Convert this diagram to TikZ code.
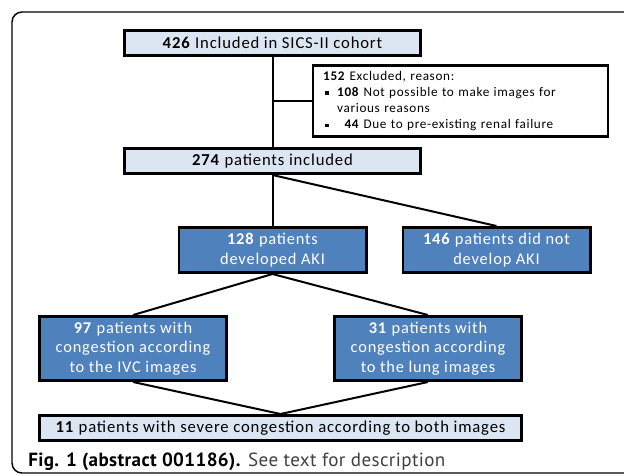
\documentclass[tikz,border=0pt]{standalone}
\usepackage{fontspec}
\setmainfont{Carlito}[LetterSpace=5]
\newfontfamily\capfont{PT Sans}[LetterSpace=2]
\usepackage{xcolor}
\usetikzlibrary{positioning}
\definecolor{paleblue}{HTML}{DCE6F2}
\definecolor{midblue}{HTML}{4F81BD}
\newcommand{\sqbullet}{\hspace{1.5pt}\rule[0.25ex]{2.5pt}{2.5pt}}

\begin{document}
\begin{tikzpicture}[
  x=0.75pt, y=-0.75pt,
  pale/.style={draw, line width=2pt, fill=paleblue,
               minimum width=222.2pt, minimum height=19pt, inner sep=0pt,
               font=\fontsize{12.5}{14}\selectfont},
  dark/.style={draw, line width=2pt, fill=midblue, text=white,
               minimum width=140.5pt, inner sep=0pt, align=center,
               font=\fontsize{12.3}{14.6}\selectfont},
  exbox/.style={draw, line width=1.8pt, fill=white,
                minimum width=221pt, minimum height=53.4pt,
                text width=206pt, inner xsep=7.5pt, align=left,
                font=\fontsize{9.9}{12.2}\selectfont},
  link/.style={line width=1.5pt}
]
\useasboundingbox (0,0) rectangle (624,475);
\draw[line width=1.1pt, rounded corners=7.5pt] (12,12) rectangle (660,473);

\node[pale] (inc) at (272.5,43) {\textbf{426} Included in SICS-II cohort};
\node[exbox] (excl) at (460.5,101) {\textbf{152} Excluded, reason:\\
  \sqbullet\hspace{6.5pt}\textbf{108} Not possible to make images for\\
  \hspace{10.5pt}various reasons\\
  \sqbullet\hspace{12pt}\textbf{44} Due to pre-existing renal failure};
\node[pale, below=67.5pt of inc] (incl) {\textbf{274} patients included};
\node[dark, minimum height=34pt, below=38.25pt of incl] (aki) {\textbf{128} patients\\developed AKI};
\node[dark, minimum height=34pt, right=25.5pt of aki] (noaki) {\textbf{146} patients did not\\develop AKI};
\node[dark, minimum height=48.2pt] (ivc) at (133,348.5) {\textbf{97} patients with\\congestion according\\to the IVC images};
\node[dark, minimum height=48.2pt, right=78.75pt of ivc] (lung) {\textbf{31} patients with\\congestion according\\to the lung images};
\node[pale, minimum width=361.8pt] (both) at (280.5,428) {\textbf{11} patients with severe congestion according to both images};

\draw[link] (inc) -- (incl);
\draw[link] (inc.south |- excl.west) -- (excl.west);
\draw[link] (incl.south) -- (aki.north);
\draw[link] (incl.south) -- (noaki.north);
\draw[link] (aki.south) -- (ivc.north);
\draw[link] (aki.south) -- (lung.north);
\draw[link] (ivc.south) -- (both.north);
\draw[link] (lung.south) -- (both.north);

\node[anchor=base west, inner sep=0pt, font=\capfont\fontsize{14.3}{16}\selectfont] (cap) at (28,466)
  {\textbf{Fig. 1 (abstract 001186).} \textcolor{black!75}{See text for description}};
\end{tikzpicture}
\end{document}
